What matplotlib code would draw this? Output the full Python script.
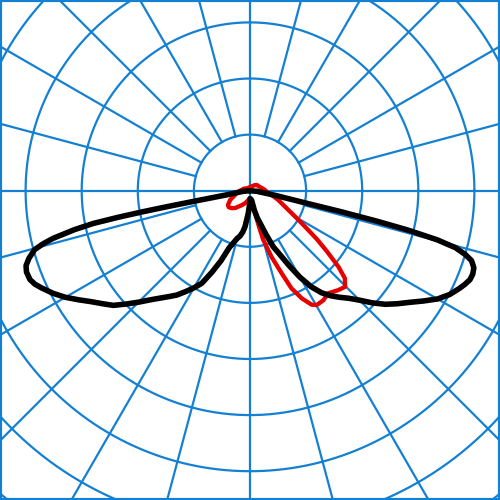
"""
Polar light distribution diagram (two planes) on a blue polar grid.
"""

import numpy as np
from matplotlib import pyplot as plt

# Black curve (C0-C180 plane), angle from nadir in degrees and intensity
black_right_deg = [0, 5, 10, 12.5, 15, 17.5, 20, 22.5, 25, 27.5, 30, 32.5, 35, 37.5, 40,
                   42.5, 45, 47.5, 50, 52.5, 55, 57.5, 60, 62.5, 65, 66.5, 68, 69.5, 71,
                   72.5, 73.5, 74.5, 75.3, 76, 76.5, 77, 77.5, 80, 85, 90]
black_right_val = [14, 15, 18, 35, 50, 62, 82, 108, 125, 150, 178, 203, 222, 236, 248,
                   260, 276, 296, 315, 331, 347, 366, 386, 401, 412, 418, 423, 424, 422,
                   414, 400, 380, 345, 290, 232, 167, 105, 40, 12, 0]

black_left_deg = [0, 2, 4.3, 7.9, 10, 12.5, 15, 17.5, 20, 22.5, 25, 27.5, 30, 32.5, 35,
                  37.5, 40, 42.5, 45, 47.5, 50, 52.5, 55, 57.5, 60, 62.5, 65, 66.5, 68,
                  70, 71.5, 73, 74.7, 75.6, 76.4, 77.5, 78.2, 78.6, 78.9, 79.1, 79.3, 80, 85, 90]
black_left_val = [16, 25, 40, 65, 75, 83, 88, 97, 108, 135, 160, 186, 200, 213, 227,
                  238, 250, 264, 281, 299, 318, 331, 345, 362, 380, 396, 410, 418, 423,
                  424, 421, 412, 398, 381, 361, 320, 285, 240, 194, 150, 103, 40, 12, 0]

# Red curve (C90-C270 plane), negative angles to the left
red_deg = [-180, -150, -126, -110, -90, -80, -74, -65, -57, -52, -46, -40, -36, -30,
           -21.6, -10, 0, 5, 10, 12.5, 14, 15, 18, 21, 23, 25.7, 28.4, 30.3, 33.8, 37.4,
           41.6, 44.7, 47.3, 49.3, 51.7, 54, 56, 58.5, 61.5, 66, 71.8, 76, 81.9, 90,
           100, 110, 120, 129, 140, 160, 180]
red_val = [6, 6, 7, 11, 18, 24, 28, 39, 47, 48, 45, 40, 35, 30,
           24, 17, 15, 18, 25, 40, 65, 90, 124, 158, 189, 213, 231, 236, 235, 230,
           237, 241, 230, 208, 175, 148, 125, 104, 85, 67, 53, 44, 33, 28,
           23, 19, 17, 16, 13, 8, 6]

ring_step = 100
grid_color = "#1480d2"

def to_xy(deg, val):
    a = np.radians(deg)
    v = np.asarray(val, dtype=float)
    return v*np.sin(a), -v*np.cos(a)

fig = plt.figure(figsize=(5, 5), dpi=100)
ax = fig.add_axes([0, 0, 1, 1])

# Grid rings
t = np.linspace(0, 2*np.pi, 721)
for r in range(ring_step, 9*ring_step, ring_step):
    ax.plot(r*np.cos(t), r*np.sin(t), color=grid_color, lw=1.6, zorder=1)

# Radial lines every 15 degrees, starting at the first ring
for deg in range(0, 360, 15):
    a = np.radians(deg)
    r0 = 0 if deg % 90 == 0 else ring_step
    ax.plot([r0*np.sin(a), 2000*np.sin(a)], [r0*np.cos(a), 2000*np.cos(a)],
            color=grid_color, lw=1.6, zorder=1)

# Curves
xr, yr = to_xy(red_deg, red_val)
ax.plot(xr, yr, color="#e60000", lw=3.1, solid_joinstyle="round",
        solid_capstyle="round", zorder=3)

xl, yl = to_xy(-np.array(black_left_deg[::-1]), black_left_val[::-1])
xb, yb = to_xy(black_right_deg, black_right_val)
ax.plot(np.r_[xl, xb], np.r_[yl, yb], color="black", lw=4,
        solid_joinstyle="round", solid_capstyle="round", zorder=4)

scale = 56.1 / ring_step  # pixels per unit
ax.set_xlim(-250/scale, 250/scale)
ax.set_ylim(-(500-190.7)/scale, 190.7/scale)
ax.set_xticks([])
ax.set_yticks([])
for s in ax.spines.values():
    s.set_color(grid_color)
    s.set_linewidth(3)

plt.savefig("out.png", dpi=100)
plt.close()
